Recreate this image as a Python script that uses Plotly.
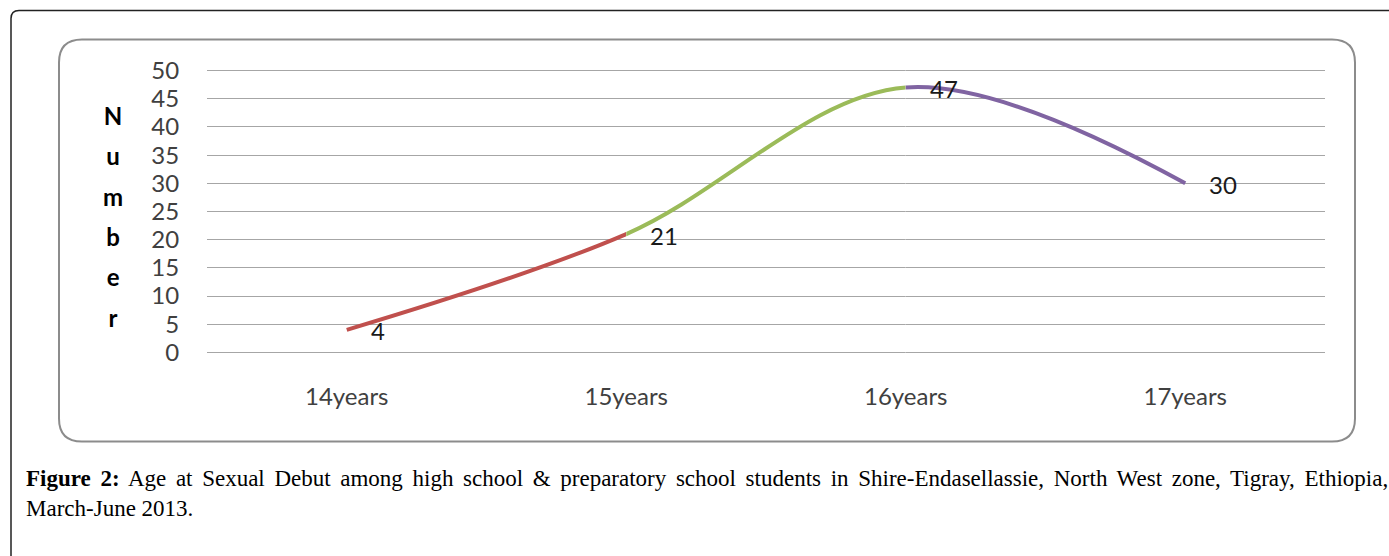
import plotly.graph_objects as go

# ---- data ----
categories = ["14years", "15years", "16years", "17years"]
values = [4, 21, 47, 30]
segment_colors = ["#C0504D", "#9BBB59", "#8064A2"]
y_ticks = [0, 5, 10, 15, 20, 25, 30, 35, 40, 45, 50]
y_title = "Number"
caption_bold = "Figure 2:"
caption_line1 = " Age at Sexual Debut among high school &amp; preparatory school students in Shire-Endasellassie, North West zone, Tigray, Ethiopia,"
caption_line2 = "March-June 2013."

W, H = 1389, 556
PL, PR = 207, 1325
Y50, Y0 = 71, 352            # pixel rows of 50 and 0
YR = [-1, 51]                # y range with a little headroom so the top gridline shows
ppu = (Y0 - Y50) / 50.0
PT = Y50 - (YR[1] - 50) * ppu
PB = Y0 + (0 - YR[0]) * ppu


def X(px):
    return (px - PL) / (PR - PL)


def Y(py):
    return (PB - py) / (PB - PT)


n = len(categories)
xs = list(range(n))
xr = [-0.5, n - 0.5]


def frac(v):
    return (v - xr[0]) / (xr[1] - xr[0])


fig = go.Figure()

# segment windows: each draws the full smooth curve, clipped to its own x window
bounds = [(xr[0], 1), (1, 2), (2, xr[1])]
layout_axes = {}
for i, (a, b) in enumerate(bounds):
    ax_name = "xaxis%d" % (i + 2)
    layout_axes[ax_name] = dict(domain=[frac(a), frac(b)], range=[a, b], anchor="y",
                                visible=False, showgrid=False, zeroline=False, fixedrange=True)
    fig.add_trace(go.Scatter(x=xs, y=values, mode="lines",
                             line=dict(color=segment_colors[i], width=4, shape="spline", smoothing=1),
                             xaxis="x%d" % (i + 2), yaxis="y", hoverinfo="skip", showlegend=False))

# invisible trace on main axes to keep them active
fig.add_trace(go.Scatter(x=xs, y=values, mode="lines", line=dict(width=0, color="rgba(0,0,0,0)"),
                         xaxis="x", yaxis="y", hoverinfo="skip", showlegend=False))

annotations = []
for i, v in enumerate(values):
    annotations.append(dict(x=xs[i], y=v, xref="x", yref="y", text=str(v), showarrow=False,
                            xanchor="left", yanchor="middle", xshift=22, yshift=-1,
                            font=dict(family="Lato", size=24, color="#1a1a1a")))

# vertical stacked y title
annotations.append(dict(x=X(113), y=Y(216), xref="paper", yref="paper",
                        text="<br>".join('<span style="font-size:24px">%s</span>' % c for c in y_title),
                        showarrow=False, xanchor="center", yanchor="middle", align="center",
                        font=dict(family="Lato", size=31, color="#000000", weight="bold")))

# caption (first line justified with extra word spacing)
annotations.append(dict(x=X(24), y=Y(493), xref="paper", yref="paper",
                        text='<span style="word-spacing:3.9px"><b>%s</b>%s</span><br>%s' % (
                            caption_bold, caption_line1, caption_line2),
                        showarrow=False, xanchor="left", yanchor="middle", align="left",
                        font=dict(family="Liberation Serif", size=23, color="#000000")))


def rounded_rect(x0, y0, x1, y1, r):
    return ("M %f,%f L %f,%f Q %f,%f %f,%f L %f,%f Q %f,%f %f,%f L %f,%f Q %f,%f %f,%f "
            "L %f,%f Q %f,%f %f,%f Z") % (
        X(x0 + r), Y(y0), X(x1 - r), Y(y0), X(x1), Y(y0), X(x1), Y(y0 + r),
        X(x1), Y(y1 - r), X(x1), Y(y1), X(x1 - r), Y(y1),
        X(x0 + r), Y(y1), X(x0), Y(y1), X(x0), Y(y1 - r),
        X(x0), Y(y0 + r), X(x0), Y(y0), X(x0 + r), Y(y0))


shapes = [
    dict(type="path", xref="paper", yref="paper", path=rounded_rect(59, 40, 1355, 441, 23),
         line=dict(color="#8c8c8c", width=2), layer="below"),
    dict(type="path", xref="paper", yref="paper",
         path="M %f,%f L %f,%f Q %f,%f %f,%f L %f,%f" % (
             X(11), Y(570), X(11), Y(19), X(11), Y(11), X(19), Y(11), X(1400), Y(11)),
         line=dict(color="#222222", width=1.5), layer="below"),
]

fig.update_layout(
    width=W, height=H,
    margin=dict(l=PL, r=W - PR, t=PT, b=H - PB),
    paper_bgcolor="white", plot_bgcolor="white",
    showlegend=False,
    xaxis=dict(domain=[0, 1], range=xr, tickvals=xs, ticktext=categories,
               showgrid=False, zeroline=False, showline=False,
               ticks="outside", ticklen=17, tickcolor="rgba(0,0,0,0)",
               tickfont=dict(family="Lato", size=24, color="#404040"), fixedrange=True),
    yaxis=dict(range=YR, tickvals=y_ticks, showgrid=True, gridcolor="#a6a6a6", gridwidth=1,
               zeroline=False, showline=False,
               ticks="outside", ticklen=22, tickcolor="rgba(0,0,0,0)",
               tickfont=dict(family="Lato", size=24, color="#404040"), fixedrange=True),
    annotations=annotations,
    shapes=shapes,
    **layout_axes,
)

fig.write_html("out.html")
